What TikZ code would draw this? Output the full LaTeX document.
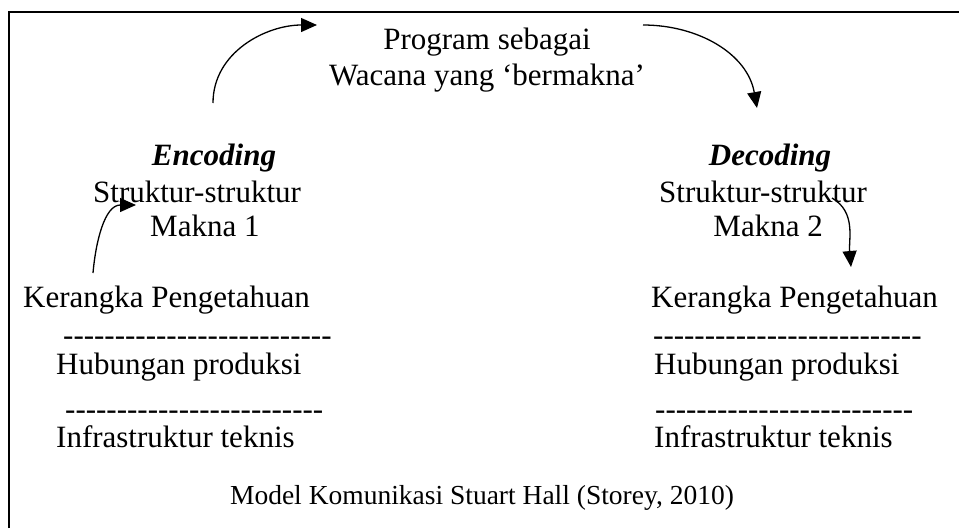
\documentclass[tikz,border=0pt]{standalone}
\usepackage{fontspec}
\setmainfont{Liberation Serif}[Ligatures=TeXOff]
\usetikzlibrary{arrows.meta}
\begin{document}
\begin{tikzpicture}[x=1pt,y=-1pt,
  txt/.style={inner sep=0pt, font=\fontsize{31}{35}\selectfont},
  ttl/.style={txt, font=\fontsize{31}{35}\selectfont\bfseries\itshape},
  arr/.style={line width=1.3pt, -{Triangle[length=16pt,width=14pt]}},
  frame/.style={line width=2pt}]
\useasboundingbox (0,0) rectangle (959,528);
\draw[frame] (9,528) -- (9,12) -- (959,12);
% top
\node[txt] (prog) at (487,42) {Program sebagai};
\node[txt] (wac) at (487,78) {Wacana yang ‘bermakna’};
% left column
\node[ttl] (enc) at (214,158) {Encoding};
\node[txt, anchor=west] (s1) at (93,192) {Struktur-struktur};
\node[txt, anchor=west] (m1) at (150,226) {Makna 1};
\node[txt, anchor=west] (k1) at (23,300) {Kerangka Pengetahuan};
\node[txt, anchor=west] (d1) at (63,341) {--------------------------};
\node[txt, anchor=west] (h1) at (56,367) {Hubungan produksi};
\node[txt, anchor=west] (e1) at (65,415) {-------------------------};
\node[txt, anchor=west] (i1) at (56,437) {Infrastruktur teknis};
% right column
\node[ttl] (dec) at (770,158) {Decoding};
\node[txt, anchor=west] (s2) at (659,192) {Struktur-struktur};
\node[txt, anchor=east] (m2) at (823,226) {Makna 2};
\node[txt, anchor=west] (k2) at (651,300) {Kerangka Pengetahuan};
\node[txt, anchor=west] (d2) at (653,341) {--------------------------};
\node[txt, anchor=west] (h2) at (654,367) {Hubungan produksi};
\node[txt, anchor=west] (e2) at (655,415) {-------------------------};
\node[txt, anchor=west] (i2) at (654,437) {Infrastruktur teknis};
% caption
\node[txt, font=\fontsize{27.5}{32}\selectfont] (cap) at (482,498) {Model Komunikasi Stuart Hall (Storey, 2010)};
% arrows
\coordinate (a1s) at (213,103);
\coordinate (a1e) at (317,25);
\coordinate (a2s) at (643,25);
\coordinate (a2e) at (757,108);
\coordinate (a3s) at (93,273);
\coordinate (a3e) at (136,205);
\coordinate (a4s) at (832,198);
\coordinate (a4e) at (851,267);
\draw[arr] (a1s) to[out=90,in=180] (a1e);
\draw[arr] (a2s) to[out=0,in=100] (a2e);
\draw[arr] (a3s) to[out=85,in=180] (a3e);
\draw[arr] (a4s) to[out=-30,in=95] (a4e);
\end{tikzpicture}
\end{document}
